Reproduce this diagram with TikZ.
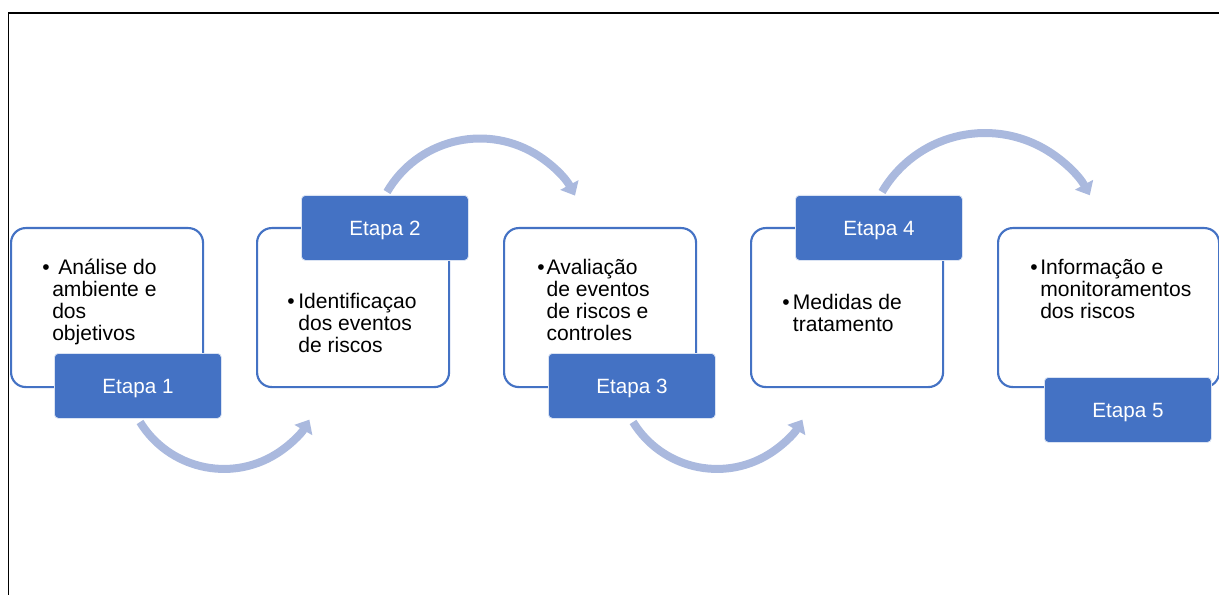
\documentclass[tikz,border=0pt]{standalone}
\usepackage{fontspec}
\setmainfont{Liberation Sans}
\usetikzlibrary{arrows.meta}
\definecolor{accent}{HTML}{4472C4}
\definecolor{arcblue}{RGB}{170,185,222}
\begin{document}
\begin{tikzpicture}[x=0.75pt,y=-0.75pt,
  stagebox/.style={draw=accent, line width=1.6pt, fill=white, rounded corners=11pt,
    minimum width=144pt, minimum height=119.25pt, anchor=north west, inner sep=0pt},
  tagbox/.style={draw=white!80!accent, line width=0.6pt, fill=accent, rounded corners=3pt,
    minimum width=125.25pt, minimum height=48.75pt, anchor=north west, text=white,
    font=\fontsize{15.5}{18}\selectfont, text height=11.1pt, text depth=0pt, inner sep=0pt},
  bodytext/.style={anchor=base west, inner sep=0pt, font=\fontsize{15.8}{16.5}\selectfont},
  flow/.style={draw=arcblue, line width=6pt, -{Triangle[length=9pt,width=15pt]}}
]
\useasboundingbox (0,0) rectangle (1219,595);
\clip (0,0) rectangle (1219,595);
% frame
\draw[line width=1.4pt] (8.5,640) -- (8.5,12.7) -- (1300,12.7);
% arcs
\coordinate (a1) at (140,422);
\coordinate (a2) at (387,192);
\coordinate (a3) at (633,422);
\coordinate (a4) at (882,192);
\draw[flow] (a1) arc[start angle=211.6, end angle=330, radius=73.95pt];
\draw[flow] (a2) arc[start angle=149.8, end angle=28, radius=80.7pt];
\draw[flow] (a3) arc[start angle=211.6, end angle=330, radius=73.95pt];
\draw[flow] (a4) arc[start angle=149.6, end angle=28.6, radius=89.55pt];
% boxes
\node[stagebox] (b1) at (10,227) {};
\node[stagebox] (b2) at (256,227) {};
\node[stagebox] (b3) at (503,227) {};
\node[stagebox] (b4) at (750,227) {};
\node[stagebox, minimum width=165.75pt] (b5) at (997,227) {};
% tags
\node[tagbox] (e1) at (54,353) {Etapa 1};
\node[tagbox] (e2) at (301,195) {Etapa 2};
\node[tagbox] (e3) at (548,353) {Etapa 3};
\node[tagbox] (e4) at (795,195) {Etapa 4};
\node[tagbox] (e5) at (1044,377) {Etapa 5};
% texts
\node[bodytext] (t1) at (42,274) {\begin{tabular}[t]{@{}l@{}l@{}}
\makebox[7.5pt][l]{•} & \hspace{4.5pt}Análise do\\ & ambiente e\\ & dos\\ & objetivos\end{tabular}};
\node[bodytext] (t2) at (287,308) {\begin{tabular}[t]{@{}l@{}l@{}}
\makebox[8.3pt][l]{•} & Identificaçao\\ & dos eventos\\ & de riscos\end{tabular}};
\node[bodytext] (t3) at (537,274) {\begin{tabular}[t]{@{}l@{}l@{}}
\makebox[7pt][l]{•} & Avaliação\\ & de eventos\\ & de riscos e\\ & controles\end{tabular}};
\node[bodytext] (t4) at (782,309) {\begin{tabular}[t]{@{}l@{}l@{}}
\makebox[8pt][l]{•} & Medidas de\\ & tratamento\end{tabular}};
\node[bodytext] (t5) at (1030,274) {\begin{tabular}[t]{@{}l@{}l@{}}
\makebox[7.5pt][l]{•} & Informação e\\ & monitoramentos\\ & dos riscos\end{tabular}};
\end{tikzpicture}
\end{document}
